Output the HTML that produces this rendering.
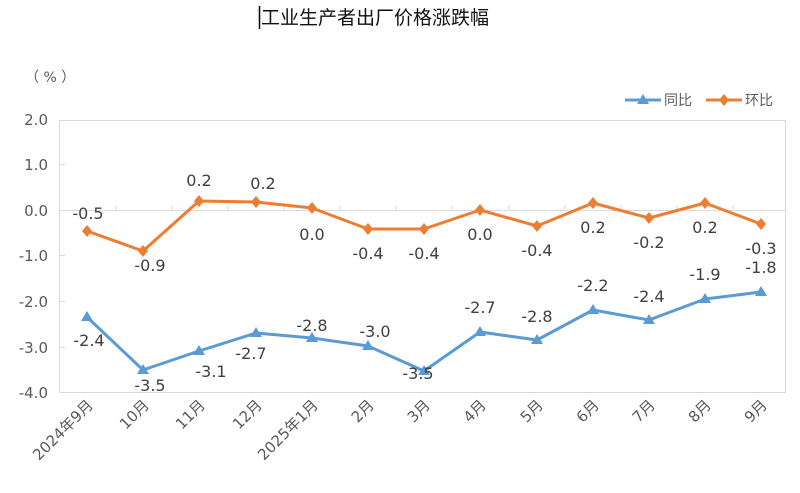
<!DOCTYPE html>
<html><head><meta charset="utf-8"><style>
body{margin:0;background:#fff;}
svg text{font-family:"DejaVu Sans","Noto Sans CJK SC",sans-serif;}
</style></head><body>
<svg width="800" height="488" viewBox="0 0 800 488" xmlns="http://www.w3.org/2000/svg">
<rect width="800" height="488" fill="#fff"/>
<text x="261" y="24" font-size="19" fill="#111" style="font-family:'Noto Sans CJK SC',sans-serif">工业生产者出厂价格涨跌幅</text>
<line x1="259.5" y1="6" x2="259.5" y2="29" stroke="#000" stroke-width="1.5"/>
<text x="25" y="82" font-size="14" fill="#595959">（ % ）</text>
<rect x="59.5" y="120.5" width="726" height="272" fill="none" stroke="#d9d9d9"/>
<line x1="59" y1="210.5" x2="786" y2="210.5" stroke="#d9d9d9"/>
<g stroke="#d9d9d9">
<line x1="116" y1="210" x2="116" y2="205"/><line x1="172" y1="210" x2="172" y2="205"/><line x1="228" y1="210" x2="228" y2="205"/><line x1="284" y1="210" x2="284" y2="205"/><line x1="340" y1="210" x2="340" y2="205"/><line x1="396" y1="210" x2="396" y2="205"/><line x1="452" y1="210" x2="452" y2="205"/><line x1="509" y1="210" x2="509" y2="205"/><line x1="565" y1="210" x2="565" y2="205"/><line x1="621" y1="210" x2="621" y2="205"/><line x1="677" y1="210" x2="677" y2="205"/><line x1="733" y1="210" x2="733" y2="205"/>
<line x1="59" y1="164.5" x2="65" y2="164.5"/><line x1="59" y1="255.5" x2="65" y2="255.5"/><line x1="59" y1="301.5" x2="65" y2="301.5"/><line x1="59" y1="347.5" x2="65" y2="347.5"/>
</g>
<g font-size="15" fill="#595959" text-anchor="end">
<text x="48" y="125">2.0</text><text x="48" y="170">1.0</text><text x="48" y="216">0.0</text><text x="48" y="261">-1.0</text><text x="48" y="307">-2.0</text><text x="48" y="353">-3.0</text><text x="48" y="398">-4.0</text>
</g>
<g font-size="15" fill="#595959" text-anchor="end">
<text transform="translate(94,406) rotate(-45)">2024年9月</text>
<text transform="translate(150,406) rotate(-45)">10月</text>
<text transform="translate(206,406) rotate(-45)">11月</text>
<text transform="translate(263,406) rotate(-45)">12月</text>
<text transform="translate(319,406) rotate(-45)">2025年1月</text>
<text transform="translate(375,406) rotate(-45)">2月</text>
<text transform="translate(431,406) rotate(-45)">3月</text>
<text transform="translate(487,406) rotate(-45)">4月</text>
<text transform="translate(544,406) rotate(-45)">5月</text>
<text transform="translate(600,406) rotate(-45)">6月</text>
<text transform="translate(656,406) rotate(-45)">7月</text>
<text transform="translate(712,406) rotate(-45)">8月</text>
<text transform="translate(768,406) rotate(-45)">9月</text>
</g>
<polyline fill="none" stroke="#ed7d31" stroke-width="3" stroke-linejoin="round" points="87,231 143,251 199,201 256,202 312,208 368,229 424,229 480,210 537,226 593,203 649,218 705,203 761,224"/>
<g fill="#ed7d31">
<path d="M87,225l5,6l-5,6l-5,-6z"/><path d="M143,245l5,6l-5,6l-5,-6z"/><path d="M199,195l5,6l-5,6l-5,-6z"/><path d="M256,196l5,6l-5,6l-5,-6z"/><path d="M312,202l5,6l-5,6l-5,-6z"/><path d="M368,223l5,6l-5,6l-5,-6z"/><path d="M424,223l5,6l-5,6l-5,-6z"/><path d="M480,204l5,6l-5,6l-5,-6z"/><path d="M537,220l5,6l-5,6l-5,-6z"/><path d="M593,197l5,6l-5,6l-5,-6z"/><path d="M649,212l5,6l-5,6l-5,-6z"/><path d="M705,197l5,6l-5,6l-5,-6z"/><path d="M761,218l5,6l-5,6l-5,-6z"/>
</g>
<polyline fill="none" stroke="#5b9bd5" stroke-width="3" stroke-linejoin="round" points="87,317 143,370 199,351 256,333 312,338 368,346 424,371 480,332 537,340 593,310 649,320 705,299 761,292"/>
<g fill="#5b9bd5">
<path d="M87,311l6,10h-12z"/><path d="M143,364l6,10h-12z"/><path d="M199,345l6,10h-12z"/><path d="M256,327l6,10h-12z"/><path d="M312,332l6,10h-12z"/><path d="M368,340l6,10h-12z"/><path d="M424,365l6,10h-12z"/><path d="M480,326l6,10h-12z"/><path d="M537,334l6,10h-12z"/><path d="M593,304l6,10h-12z"/><path d="M649,314l6,10h-12z"/><path d="M705,293l6,10h-12z"/><path d="M761,286l6,10h-12z"/>
</g>
<g font-size="16" fill="#404040" text-anchor="middle">
<text x="88" y="219">-0.5</text><text x="150" y="271">-0.9</text><text x="199" y="186">0.2</text><text x="263" y="189">0.2</text><text x="312" y="240">0.0</text><text x="368" y="259">-0.4</text><text x="424" y="259">-0.4</text><text x="480" y="240">0.0</text><text x="537" y="256">-0.4</text><text x="593" y="233">0.2</text><text x="649" y="248">-0.2</text><text x="705" y="233">0.2</text><text x="761" y="254">-0.3</text>
<text x="89" y="346">-2.4</text><text x="150" y="391">-3.5</text><text x="211" y="377">-3.1</text><text x="251" y="359">-2.7</text><text x="312" y="331">-2.8</text><text x="375" y="337">-3.0</text><text x="418" y="379">-3.5</text><text x="480" y="313">-2.7</text><text x="537" y="322">-2.8</text><text x="593" y="291">-2.2</text><text x="649" y="302">-2.4</text><text x="705" y="280">-1.9</text><text x="761" y="273">-1.8</text>
</g>
<line x1="625" y1="100" x2="661" y2="100" stroke="#5b9bd5" stroke-width="3"/><path d="M643,94l6,10h-12z" fill="#5b9bd5"/>
<text x="664" y="105" font-size="14" fill="#595959">同比</text>
<line x1="706" y1="100" x2="742" y2="100" stroke="#ed7d31" stroke-width="3"/><path d="M724,94l5,6l-5,6l-5,-6z" fill="#ed7d31"/>
<text x="745" y="105" font-size="14" fill="#595959">环比</text>
</svg>
</body></html>
